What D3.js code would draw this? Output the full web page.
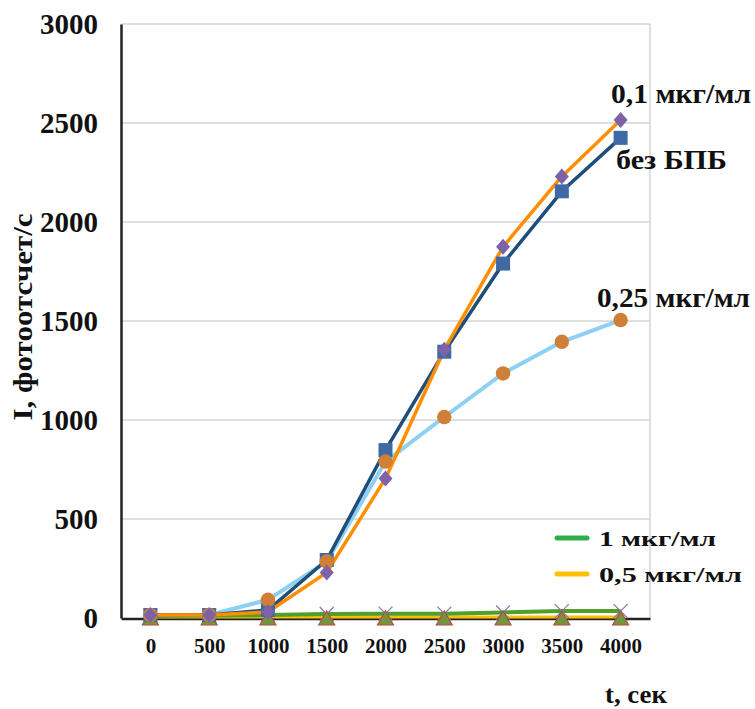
<!DOCTYPE html>
<html>
<head>
<meta charset="utf-8">
<script src="https://cdn.jsdelivr.net/npm/d3@7"></script>
<style>
    body { margin: 0; background: #ffffff; }
    svg { display: block; }
    svg text { font-family: "Liberation Serif", "Times New Roman", "DejaVu Serif", serif; font-weight: bold; fill: #111; }
</style>
</head>
<body>
<svg id="chart" width="755" height="709"></svg>
<script>
const times = [0, 500, 1000, 1500, 2000, 2500, 3000, 3500, 4000];
const yTicks = [0, 500, 1000, 1500, 2000, 2500, 3000];

// series values, photocounts per second
const noBpb = [15, 15, 40, 293, 848, 1345, 1790, 2155, 2425];
const conc01 = [15, 15, 30, 230, 705, 1355, 1875, 2230, 2515];
const conc025 = [15, 15, 92, 285, 790, 1015, 1235, 1395, 1505];
const conc1 = [10, 12, 15, 20, 22, 22, 28, 35, 35];
const conc05 = [5, 5, 5, 5, 5, 5, 5, 5, 5];

const svg = d3.select('#chart');
const margin = {left: 121, right: 650, top: 24, bottom: 618};

const x = d3.scalePoint()
    .domain(times)
    .range([margin.left, margin.right])
    .padding(0.5);
const y = d3.scaleLinear()
    .domain([0, 3000])
    .range([margin.bottom, margin.top]);

// grid
svg.append('g')
    .selectAll('line')
    .data(yTicks.filter((d) => d > 0))
    .enter()
    .append('line')
    .attr('x1', margin.left)
    .attr('x2', margin.right)
    .attr('y1', (d) => y(d))
    .attr('y2', (d) => y(d))
    .attr('stroke', '#d4d4d4')
    .attr('stroke-width', 1.5);
svg.append('line')
    .attr('x1', margin.right)
    .attr('x2', margin.right)
    .attr('y1', y(3000))
    .attr('y2', y(0))
    .attr('stroke', '#d4d4d4')
    .attr('stroke-width', 1.5);

// y axis
const yAxis = svg.append('g')
    .attr('transform', `translate(${margin.left},0)`)
    .call(d3.axisLeft(y).tickValues(yTicks).tickFormat(d3.format('d')).tickSize(0).tickPadding(23));
yAxis.select('.domain').attr('stroke', '#222').attr('stroke-width', 2.5);
yAxis.selectAll('text').attr('font-size', 29);

// x axis
const xAxis = svg.append('g')
    .attr('transform', `translate(0,${margin.bottom + 0.5})`)
    .call(d3.axisBottom(x).tickSize(0).tickPadding(20));
xAxis.select('.domain').attr('stroke', '#222').attr('stroke-width', 2.5);
xAxis.selectAll('text').attr('font-size', 21);

const line = d3.line()
    .x((d, i) => x(times[i]))
    .y((d) => y(d));

const drawLine = (values, color, width) => {
    svg.append('path')
        .datum(values)
        .attr('d', line)
        .attr('fill', 'none')
        .attr('stroke', color)
        .attr('stroke-width', width)
        .attr('stroke-linejoin', 'round');
};

const drawMarkers = (values, pathFn, fill, stroke) => {
    svg.append('g')
        .selectAll('path')
        .data(values)
        .enter()
        .append('path')
        .attr('transform', (d, i) => `translate(${x(times[i])},${y(d)})`)
        .attr('d', pathFn)
        .attr('fill', fill)
        .attr('stroke', stroke || 'none')
        .attr('stroke-width', 1.2);
};

const squarePath = () => 'M-7,-7H7V7H-7Z';
const diamondPath = () => 'M0,-8L7,0L0,8L-7,0Z';
const circlePath = () => d3.symbol(d3.symbolCircle, 165)();
const trianglePath = () => 'M0,-6L8,8H-8Z';
const crossPath = () => 'M-7,-7L7,7M-7,7L7,-7';

// bottom series
drawLine(conc05, '#ffc000', 3);
drawLine(conc1, '#4f9f2c', 4);
drawMarkers(conc1, crossPath, 'none', '#8a74aa');
drawMarkers(conc05, trianglePath, '#77933c', '#b0504a');

// main series
drawLine(conc025, '#8ecff4', 4);
drawLine(noBpb, '#1f4e79', 3.5);
drawLine(conc01, '#ff8f00', 3.5);
drawMarkers(noBpb, squarePath, '#3f69a5');
drawMarkers(conc025, circlePath, '#d07f37');
drawMarkers(conc01, diamondPath, '#7e62a8');

// stretched text, as in the original picture
const addText = (sel, size, len) => sel
    .attr('font-size', size)
    .attr('textLength', len)
    .attr('lengthAdjust', 'spacingAndGlyphs');

// series labels
const labels = [
    {text: '0,1 мкг/мл', x: 611, y: 103, len: 140},
    {text: 'без БПБ', x: 616, y: 169, len: 111},
    {text: '0,25 мкг/мл', x: 597, y: 307, len: 153}
];
svg.append('g')
    .selectAll('text')
    .data(labels)
    .enter()
    .append('text')
    .attr('x', (d) => d.x)
    .attr('y', (d) => d.y)
    .text((d) => d.text)
    .each(function (d) {
        addText(d3.select(this), 27, d.len);
    });

// legend
const legend = [
    {text: '1 мкг/мл', color: '#2fae4a', y: 538, len: 117},
    {text: '0,5 мкг/мл', color: '#ffc000', y: 574, len: 143}
];
const legendItems = svg.append('g')
    .selectAll('g')
    .data(legend)
    .enter()
    .append('g')
    .attr('transform', (d) => `translate(557,${d.y})`);
legendItems.append('line')
    .attr('x1', 0)
    .attr('x2', 30)
    .attr('stroke', (d) => d.color)
    .attr('stroke-width', 5)
    .attr('stroke-linecap', 'round');
legendItems.append('text')
    .attr('x', 42)
    .attr('y', 8)
    .text((d) => d.text)
    .each(function (d) {
        addText(d3.select(this), 22, d.len);
    });

// axis titles
addText(svg.append('text')
    .attr('transform', 'translate(32,317) rotate(-90)')
    .attr('text-anchor', 'middle')
    .text('I, фотоотсчет/с'), 27, 207);
addText(svg.append('text')
    .attr('x', 605)
    .attr('y', 703)
    .text('t, сек'), 25, 62);
</script>
</body>
</html>
